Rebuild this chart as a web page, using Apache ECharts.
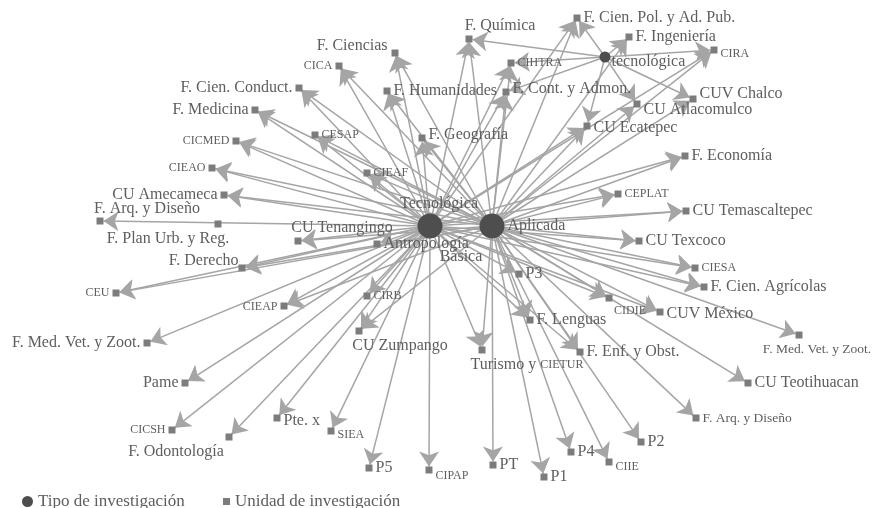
<!DOCTYPE html>
<html><head><meta charset="utf-8">
<script src="https://cdn.jsdelivr.net/npm/echarts@6/dist/echarts.min.js"></script>
<style>html,body{margin:0;padding:0;background:#fff}#c{width:873px;height:508px}</style>
</head><body><div id="c"></div>
<script>
// Research types (circles)
const typeNames = ['Tecnológica', 'Aplicada', 'Básica', 'tecnológica'];
const typeX = [430, 492, 461, 605];
const typeY = [226, 226, 257, 57];
const typeKeys = ['T', 'A', 'B', 't'];

// Research units (squares)
const unitNames = ['F. Química','F. Cien. Pol. y Ad. Pub.','F. Ingeniería','CIRA','CUV Chalco','CU Atlacomulco','CU Ecatepec','F. Economía','CEPLAT','CU Temascaltepec',
  'CU Texcoco','CIESA','F. Cien. Agrícolas','CUV México','CIDIE','F. Med. Vet. y Zoot.','CU Teotihuacan','F. Arq. y Diseño','P2','CIIE',
  'P4','F. Enf. y Obst.','Turismo y CIETUR','F. Lenguas','P3','PT','P1','CIPAP','P5','SIEA',
  'Pte. x','CU Zumpango','CIRB','Antropología','CU Tenangingo','CIEAP','F. Derecho','CEU','F. Med. Vet. y Zoot.','Pame',
  'CICSH','F. Odontología','F. Plan Urb. y Reg.','F. Arq. y Diseño','CU Amecameca','CIEAO','CICMED','F. Medicina','F. Cien. Conduct.','CICA',
  'F. Ciencias','F. Humanidades','CIHTRA','F. Cont. y Admon.','F. Geografía','CESAP','CIEAF'];
const unitX = [469,577,629,714,693,637,587,685,618,686, 639,695,704,660,609,799,748,696,641,609, 571,580,482,530,519,493,544,429,369,331,
  277,359,367,377,298,284,242,116,147,185, 172,229,218,100,224,212,236,255,299,339, 395,387,511,506,422,315,367];
const unitY = [39,18,37,50,99,104,126,156,194,211, 241,268,287,312,298,335,383,418,442,462, 452,352,350,320,274,465,477,470,468,431,
  418,331,296,244,241,306,268,293,343,383, 430,437,224,221,195,168,141,110,88,66, 53,91,63,92,138,135,173];
// which research types point to each unit
const unitSources = ['TAt','TAt','tA','tTA','tA','tA','tTA','TA','TA','TA', 'TA','TA','TA','TA','TA','A','A','A','A','A',
  'A','TA','TA','TA','T','A','A','T','T','T', 'T','TA','T','T','TA','TA','TA','TA','T','T', 'T','T','','T','TA','TA','TA','TA','TA','TA',
  'TA','TA','TAt','TAt','TA','TA','TA'];

// ---- styling (not data) ----
const smallSet = new Set(['CIRA','CEPLAT','CIESA','CIDIE','CIIE','CIPAP','SIEA','CIRB','CIEAP','CEU','CICSH','CIEAO','CICMED','CICA','CIHTRA','CESAP','CIEAF']);
const midSet = new Set([15, 17]);
const labelPlace = {0:['top',[31,1]],3:['right',[0,4]],4:['right',[0,-5]],5:['right',[0,6]],6:['right',[0,2]],
  13:['right',[0,2]],14:['bottom',[21,0]],15:['bottom',[18,1]],19:['right',[0,5]],22:['bottom',[45,0]],27:['right',[0,6]],29:['right',[0,4]],30:['right',[0,3]],
  31:['bottom',[41,0]],34:['top',[44,1]],35:['left',[0,1]],36:['left',[3,-7]],37:['left',[0,0]],38:['left',[0,0]],39:['left',[0,0]],40:['left',[0,0]],
  41:['bottom',[-53,0]],42:['bottom',[-50,0]],43:['top',[47,2]],44:['left',[0,0]],45:['left',[0,0]],46:['left',[0,0]],47:['left',[0,0]],48:['left',[0,0]],49:['left',[0,0]],
  50:['left',[-1,-7]],53:['right',[0,-3]],54:['right',[0,-3]]};
const FONT = '"Liberation Serif", "DejaVu Serif", serif';
const TXT = '#5e5e5e';

const nodes = [];
typeNames.forEach((n, i) => {
  const lab = {show: true, color: TXT, fontFamily: FONT, fontSize: 16};
  if (i === 0) Object.assign(lab, {position: 'top', offset: [9, 3]});
  else if (i === 1) Object.assign(lab, {position: 'right', distance: 3});
  else if (i === 2) Object.assign(lab, {position: 'inside'});
  else Object.assign(lab, {position: 'right', distance: 1, offset: [0, 5]});
  nodes.push({id: 'type' + i, name: n, value: [typeX[i], typeY[i]], category: 0, symbol: 'circle',
    symbolSize: i === 3 ? 11 : (i === 2 ? 0 : 25), label: lab});
});
unitNames.forEach((n, i) => {
  const lp = labelPlace[i] || ['right', [0, 0]];
  const lab = {show: true, color: TXT, fontFamily: FONT, fontSize: smallSet.has(n) ? 12 : (midSet.has(i) ? 13.5 : 16),
    position: lp[0], offset: lp[1], distance: 3};
  if (i === 22) {
    lab.formatter = '{a|Turismo y }{b|CIETUR}';
    lab.rich = {a: {fontSize: 16, color: TXT, fontFamily: FONT}, b: {fontSize: 12, color: TXT, fontFamily: FONT}};
  }
  nodes.push({id: 'unit' + i, name: n, value: [unitX[i], unitY[i]], category: 1, symbol: 'rect', symbolSize: 7, label: lab});
});
const links = [];
unitSources.forEach((s, i) => {
  for (const ch of s) {
    links.push({source: typeKeys.indexOf(ch), target: typeNames.length + i});
  }
});

const chart = echarts.init(document.getElementById('c'), null, {renderer: 'canvas'});
chart.setOption({
  animation: false,
  backgroundColor: '#fff',
  grid: {left: 0, right: 0, top: 0, bottom: 0},
  xAxis: {type: 'value', min: 0, max: 873, show: false},
  yAxis: {type: 'value', min: 0, max: 508, inverse: true, show: false},
  legend: [
    {data: [{name: 'Tipo de investigación', icon: 'circle'}], left: 22, top: 493, padding: 0, itemWidth: 11, itemHeight: 11,
      textStyle: {fontFamily: FONT, fontSize: 17, color: TXT}, selectedMode: false},
    {data: [{name: 'Unidad de investigación', icon: 'rect'}], left: 223, top: 493, padding: 0, itemWidth: 7, itemHeight: 7,
      textStyle: {fontFamily: FONT, fontSize: 17, color: TXT}, selectedMode: false}
  ],
  series: [{
    type: 'graph',
    layout: 'none',
    coordinateSystem: 'cartesian2d',
    categories: [
      {name: 'Tipo de investigación', symbol: 'circle', itemStyle: {color: '#4e4e4e'}},
      {name: 'Unidad de investigación', symbol: 'rect', itemStyle: {color: '#7c7c7c'}}
    ],
    data: nodes,
    links: links,
    edgeSymbol: ['none', 'arrow'],
    edgeSymbolSize: [0, 15],
    lineStyle: {color: '#a5a5a5', width: 1.5, opacity: 1, curveness: 0},
    emphasis: {disabled: true},
    z: 2
  }]
});
</script></body></html>
